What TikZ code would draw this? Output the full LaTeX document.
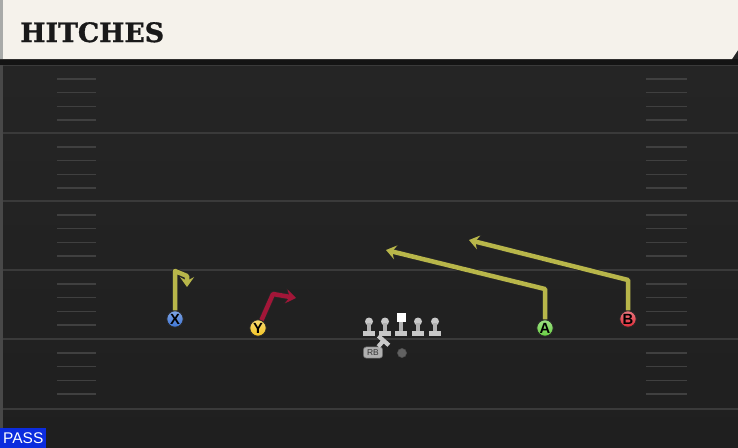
\documentclass[tikz,border=0pt]{standalone}
\usepackage{fontspec}
\setmainfont{DejaVu Serif}
\setsansfont{Liberation Sans}
\newfontfamily\titlefont[FakeBold=1.2]{DejaVu Serif}
\usetikzlibrary{arrows.meta,positioning}

\definecolor{turftop}{RGB}{38,38,38}
\definecolor{turfbottom}{RGB}{31,31,31}
\definecolor{yardgray}{RGB}{58,58,58}
\definecolor{hashgray}{RGB}{64,64,64}
\definecolor{sidegray}{RGB}{72,72,72}
\definecolor{headercream}{RGB}{245,242,235}
\definecolor{headerside}{RGB}{168,170,168}
\definecolor{shadowband}{RGB}{20,20,20}
\definecolor{routeyellow}{RGB}{184,182,74}
\definecolor{routered}{RGB}{162,22,56}
\definecolor{xblue}{RGB}{60,116,212}
\definecolor{yyellow}{RGB}{242,196,36}
\definecolor{agreen}{RGB}{104,208,66}
\definecolor{bred}{RGB}{222,44,56}
\definecolor{linegray}{RGB}{200,200,200}
\definecolor{stemgray}{RGB}{176,176,176}
\definecolor{passblue}{RGB}{12,44,222}

\tikzset{
    yardline/.style={
                draw=yardgray,
                line width=1.5pt
            },
        hash/.style={
                draw=hashgray,
                line width=1.2pt
            },
        title/.style={
                inner sep=0pt,
                font=\titlefont\bfseries\fontsize{19}{20}\selectfont,
                text=black!90
            },
        player/.style={
                circle,
                draw=black!85,
                line width=0.6pt,
                minimum size=0.41cm,
                inner sep=0pt,
                top color=#1!65!white,
                bottom color=#1,
                font=\sffamily\bfseries\fontsize{10.5}{10.5}\selectfont,
                text=black
            },
        route/.style={
                draw=routeyellow,
                line width=3.2pt,
                line join=round,
                -{Stealth[length=7pt,width=10pt,inset=2.5pt]},
                preaction={draw=black!85, line width=4.3pt, line join=round,
                    -{Stealth[length=8.2pt,width=11.6pt,inset=2.9pt]}}
            },
        redroute/.style={
                route,
                draw=routered
            },
        block/.style={
                draw=linegray,
                line width=3pt,
                -{Bar[width=10pt,line width=3pt]}
            },
        rbbadge/.style={
                draw=black!60,
                fill=stemgray,
                rounded corners=2pt,
                minimum width=0.48cm,
                minimum height=0.28cm,
                inner sep=0pt,
                font=\sffamily\fontsize{6}{6}\selectfont,
                text=black!80
            },
        qb/.style={
                circle,
                fill=black!45!stemgray,
                draw=black!70,
                minimum size=0.23cm,
                inner sep=0pt
            },
        passtag/.style={
                fill=passblue,
                minimum width=1.15cm,
                minimum height=0.5cm,
                inner sep=0pt,
                font=\sffamily\fontsize{11}{11}\selectfont,
                text=white
            }
}

\begin{document}
\begin{tikzpicture}[x=0.025cm, y=-0.025cm]
  % Field
  \useasboundingbox (0,0) rectangle (738,448);
  \shade[top color=turftop, bottom color=turfbottom] (0,0) rectangle (738,448);
  \fill[sidegray] (0,59) rectangle (2.5,448);
  \foreach \yl in {65,133,201,270,339,409}
    \draw[yardline] (2.5,\yl) -- (738,\yl);
  \foreach \yl in {65,133,201,270,339}
    \foreach \k in {1,...,4}{
      \draw[hash] (57,{\yl+13.8*\k}) -- (96,{\yl+13.8*\k});
      \draw[hash] (646,{\yl+13.8*\k}) -- (687,{\yl+13.8*\k});
    }
  % Header
  \fill[shadowband] (0,59) rectangle (738,65);
  \fill[headercream] (0,0) -- (738,0) -- (738,50) -- (732,59) -- (0,59) -- cycle;
  \fill[headerside] (0,0) rectangle (2.5,59);
  \node[title, anchor=base west] (title) at (20,42) {HITCHES};
  % Line
  \foreach \lx in {369,385,418,435}{
      \fill[linegray] (\lx,321.5) circle[radius=0.1cm];
      \fill[stemgray] (\lx-2,323) rectangle (\lx+2,332);
      \fill[linegray] (\lx-6,331) rectangle (\lx+6,336);
    }
  \fill[white] (396.5,313) rectangle (405.5,322);
  \fill[stemgray] (399,322) rectangle (403,332);
  \fill[linegray] (395,331) rectangle (407,336);
  % Backfield
  \node[rbbadge] (RB) at (373,352.5) {RB};
  \coordinate (RBblock) at (385,339);
  \draw[block] (RB) -- (RBblock);
  \node[qb] (QB) at (402,353) {};
  % Receivers
  \node[player=xblue] (X) at (175,319) {X};
  \node[player=yyellow] (Y) at (258,328) {Y};
  \node[player=agreen] (A) at (545,328) {A};
  \node[player=bred] (B) at (628,319) {B};
  % Routes
  \coordinate (Xstem) at (175,271);
  \coordinate (Xhook) at (187,276);
  \coordinate (Xend) at (187,287);
  \draw[route] (X) -- (Xstem) -- (Xhook) -- (Xend);
  \coordinate (Ystem) at (273,294);
  \coordinate (Yend) at (296,298);
  \draw[redroute] (Y) -- (Ystem) -- (Yend);
  \coordinate (Astem) at (545,289);
  \coordinate (Aend) at (386,250);
  \draw[route] (A) -- (Astem) -- (Aend);
  \coordinate (Bstem) at (628,280);
  \coordinate (Bend) at (469,240);
  \draw[route] (B) -- (Bstem) -- (Bend);
  % Tag
  \node[passtag, anchor=south west] (pass) at (0,448) {PASS};
\end{tikzpicture}
\end{document}
